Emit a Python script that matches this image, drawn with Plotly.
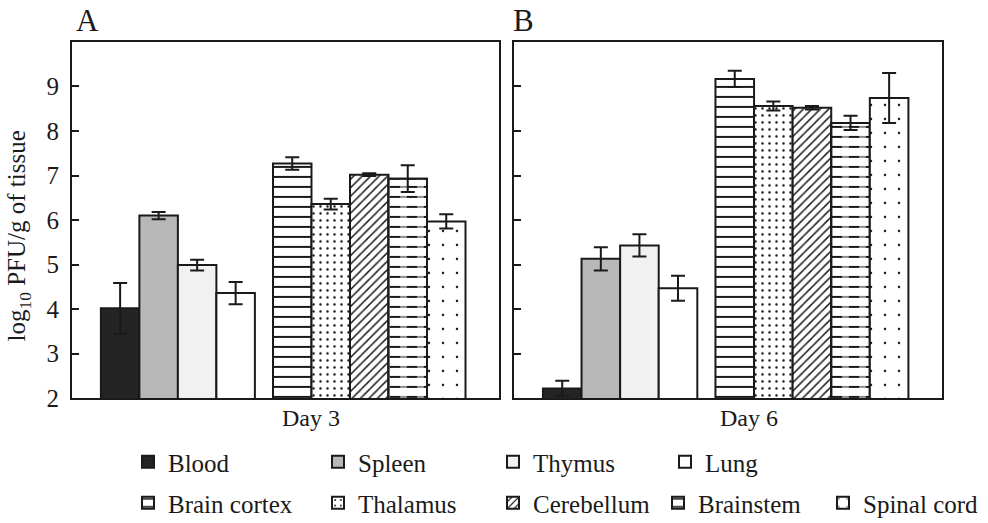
import plotly.graph_objects as go

# ---- data ----
tissues = ["Blood", "Spleen", "Thymus", "Lung", "Brain cortex",
           "Thalamus", "Cerebellum", "Brainstem", "Spinal cord"]
day3_mean = [4.02, 6.10, 4.99, 4.36, 7.27, 6.36, 7.02, 6.93, 5.97]
day3_err = [0.57, 0.08, 0.12, 0.25, 0.14, 0.12, 0.03, 0.30, 0.16]
day6_mean = [2.22, 5.13, 5.43, 4.47, 9.17, 8.56, 8.52, 8.18, 8.74]
day6_err = [0.17, 0.26, 0.25, 0.28, 0.18, 0.10, 0.04, 0.16, 0.56]
panels = ["Day 3", "Day 6"]
panel_letters = ["A", "B"]
y_ticks = [2, 3, 4, 5, 6, 7, 8, 9]

# ---- styles ----
FONT = "Liberation Serif"
INK = "#1a1a1a"
fill_colors = ["#242424", "#b8b8b8", "#f1f1f1", "#ffffff", "#ffffff",
               "#ffffff", "#ffffff", "#ffffff", "#ffffff"]
pat_shape = ["", "", "", "", "-", ".", "/", "-", "."]
pat_size = [8, 8, 8, 8, 10, 7, 6, 10, 14]
pat_solid = [0.2, 0.2, 0.2, 0.2, 0.2, 0.1, 0.25, 0.2, 0.025]
GROUP_GAP = 0.47
positions = [i + (GROUP_GAP if i >= 4 else 0) for i in range(len(tissues))]

W, H = 988, 523          # reference frame (pixel coordinates below)
FIG_H = 536              # page height that maps onto the 523-px picture
def px(x):
    return x / W
def py(y):
    return 1 - y / H

# legend placement (pixel coords of text start, text centre)
leg_xy = [(170, 463), (360, 463), (535, 463), (707, 463),
          (170, 504), (360, 504), (535, 504), (700, 504), (865, 504)]

fig = go.Figure()
series = [(day3_mean, day3_err), (day6_mean, day6_err)]
for p, (means, errs) in enumerate(series):
    xa = "x" if p == 0 else "x2"
    ya = "y" if p == 0 else "y2"
    for i, name in enumerate(tissues):
        is_bs = name == "Brainstem"
        lg = "legend" if i == 0 else f"legend{i + 1}"
        fig.add_trace(go.Bar(
            x=[positions[i]], y=[means[i]], width=[1],
            name=name, xaxis=xa, yaxis=ya,
            legend=lg, showlegend=(p == 0),
            marker=dict(
                color=fill_colors[i],
                line=dict(color=INK, width=2),
                pattern=dict(shape=pat_shape[i], size=pat_size[i],
                             solidity=pat_solid[i], fgcolor=INK,
                             bgcolor=fill_colors[i], fillmode="replace"),
            ),
            error_y=None if is_bs else dict(type="data", array=[errs[i]],
                                            color=INK, thickness=2, width=7),
            hoverinfo="skip",
        ))
        if is_bs:
            # white vertical stripes break the horizontal lines into dashes
            fig.add_trace(go.Bar(
                x=[positions[i]], y=[means[i]], width=[1],
                name=name, xaxis=xa, yaxis=ya, showlegend=False,
                marker=dict(
                    color="rgba(0,0,0,0)",
                    line=dict(color=INK, width=2),
                    pattern=dict(shape="|", size=17, solidity=0.4,
                                 fgcolor="white", bgcolor="rgba(0,0,0,0)",
                                 fillmode="overlay"),
                ),
                error_y=dict(type="data", array=[errs[i]],
                             color=INK, thickness=2, width=7),
                hoverinfo="skip",
            ))

axis_common = dict(showline=True, mirror=True, linewidth=2, linecolor=INK,
                   showgrid=False, zeroline=False)
xr = [-1.25, 9.84]
layout = dict(
    width=W, height=FIG_H,
    margin=dict(l=0, r=0, t=0, b=0),
    paper_bgcolor="white", plot_bgcolor="white",
    barmode="overlay",
    font=dict(family=FONT, size=24, color=INK),
    xaxis=dict(domain=[px(72), px(499)], range=xr, showticklabels=False,
               ticks="", anchor="y", **axis_common),
    xaxis2=dict(domain=[px(514), px(942)], range=xr, showticklabels=False,
                ticks="", anchor="y2", **axis_common),
    yaxis=dict(domain=[py(399), py(42)], range=[2, 10], anchor="x",
               tickvals=y_ticks, ticks="inside", ticklen=7, tickwidth=2,
               tickcolor=INK, ticklabelstandoff=6,
               tickfont=dict(size=25, family=FONT, color=INK),
               **axis_common),
    yaxis2=dict(domain=[py(399), py(42)], range=[2, 10], anchor="x2",
                tickvals=y_ticks, ticks="inside", ticklen=7, tickwidth=2,
                tickcolor=INK, showticklabels=False, **axis_common),
    showlegend=True,
)
for i in range(len(tissues)):
    key = "legend" if i == 0 else f"legend{i + 1}"
    tx, ty = leg_xy[i]
    layout[key] = dict(x=px(tx - 42), y=py(ty), xanchor="left", yanchor="middle",
                       orientation="h", bgcolor="rgba(0,0,0,0)",
                       font=dict(family=FONT, size=25, color=INK),
                       itemclick=False, itemdoubleclick=False)
fig.update_layout(**layout)

annos = [
    dict(text=panel_letters[0], x=px(87), y=py(21), font=dict(size=31)),
    dict(text=panel_letters[1], x=px(523), y=py(21), font=dict(size=31)),
    dict(text=panels[0], x=px(311), y=py(419), font=dict(size=24)),
    dict(text=panels[1], x=px(749), y=py(419), font=dict(size=24)),
    dict(text="log<sub>10</sub> PFU/g of tissue", x=px(19), y=py(237),
         textangle=-90, font=dict(size=25)),
]
for a in annos:
    fig.add_annotation(xref="paper", yref="paper", showarrow=False,
                       xanchor="center", yanchor="middle",
                       font_family=FONT, font_color=INK,
                       **{k: v for k, v in a.items()})

css_fix = (
    "document.documentElement.style.margin='0px';"
    "document.documentElement.style.padding='0px';"
    "document.body.style.margin='0px';"
    "document.body.style.padding='0px';"
)
fig.write_html("out.html", config={"displayModeBar": False},
               post_script=css_fix)
